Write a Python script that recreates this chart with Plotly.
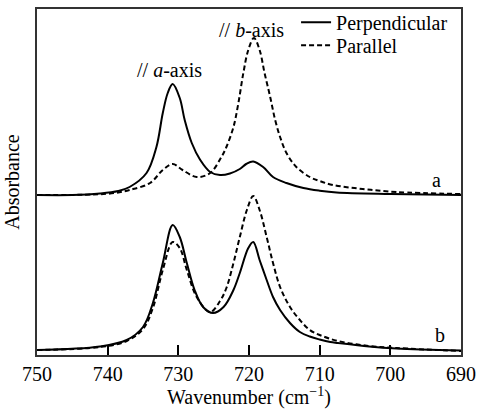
import plotly.graph_objects as go

# ---- data ----
wn_a_perp = [750, 745, 741.1, 738.5, 736.9, 734.5, 733.1, 732.2, 731.5, 730.8, 729.8, 729.1, 728.1,
             726.9, 725.5, 724.1, 722.7, 721.3, 720.4, 719.4, 718.0, 716.6, 714.7, 712.3,
             710.0, 707.6, 700, 690]
abs_a_perp = [0.00, 0.00, 0.015, 0.04, 0.08, 0.22, 0.48, 0.82, 1.02, 1.11, 0.97, 0.75, 0.52,
              0.35, 0.23, 0.20, 0.215, 0.26, 0.31, 0.335, 0.28, 0.18, 0.12, 0.07,
              0.043, 0.025, 0.01, 0.00]

wn_a_par = [750, 742, 739, 736.9, 734.0, 732.2, 730.8, 729.4, 727.4, 725.5, 723.9, 723.2, 722.2,
            721.5, 720.8, 720.1, 719.3, 718.5, 717.8, 717.0, 716.3, 715.6, 714.7, 713.3, 711.4,
            710.0, 708.1, 703.9, 699.1, 690]
abs_a_par = [0.00, 0.005, 0.02, 0.05, 0.12, 0.25, 0.31, 0.25, 0.18, 0.22, 0.38, 0.48, 0.68,
             0.92, 1.22, 1.45, 1.57, 1.45, 1.22, 0.98, 0.75, 0.58, 0.42, 0.28, 0.18,
             0.14, 0.10, 0.06, 0.03, 0.01]

wn_b_perp = [750, 741.1, 737.3, 735.0, 733.6, 732.2, 730.8, 729.8, 728.8, 727.7, 726.5, 725.1, 723.6,
             722.2, 721.3, 720.1, 719.4, 718.5, 717.5, 716.6, 715.6, 714.2, 712.8, 711.4, 710.0,
             708.5, 707.4, 703.0, 699.1, 690]
abs_b_perp = [0.01, 0.045, 0.11, 0.24, 0.48, 0.88, 1.26, 1.14, 0.88, 0.61, 0.44, 0.38, 0.44,
              0.61, 0.78, 1.03, 1.09, 0.91, 0.71, 0.54, 0.41, 0.28, 0.19, 0.145, 0.115,
              0.09, 0.08, 0.045, 0.025, 0.005]

wn_b_par = [750, 741.1, 737.3, 735.0, 733.6, 732.2, 730.8, 729.8, 728.8, 727.4, 725.5, 724.1, 723.2,
            722.2, 721.3, 720.3, 719.4, 718.5, 717.5, 716.6, 715.6, 714.2, 712.8, 711.4, 710.0,
            707.4, 703.0, 699.1, 690]
abs_b_par = [0.01, 0.04, 0.10, 0.22, 0.43, 0.81, 1.09, 1.03, 0.81, 0.54, 0.39, 0.50, 0.63,
             0.88, 1.14, 1.41, 1.55, 1.41, 1.14, 0.88, 0.64, 0.44, 0.31, 0.21, 0.16,
             0.10, 0.05, 0.03, 0.00]

offset_a = 1.60
offset_b = 0.04

x_ticks = [750, 740, 730, 720, 710, 700, 690]
series_names = ["Perpendicular", "Parallel"]

FONT = "Liberation Serif, Times New Roman, serif"
FS = 20

fig = go.Figure()
solid = dict(color="black", width=2)
dashed = dict(color="black", width=2, dash="5px,3px")

fig.add_trace(go.Scatter(x=wn_a_perp, y=[v + offset_a for v in abs_a_perp], mode="lines",
                         line=solid, line_shape="spline", name=series_names[0], legend="legend"))
fig.add_trace(go.Scatter(x=wn_a_par, y=[v + offset_a for v in abs_a_par], mode="lines",
                         line=dashed, line_shape="spline", name=series_names[1], legend="legend2"))
fig.add_trace(go.Scatter(x=wn_b_perp, y=[v + offset_b for v in abs_b_perp], mode="lines",
                         line=solid, line_shape="spline", showlegend=False))
fig.add_trace(go.Scatter(x=wn_b_par, y=[v + offset_b for v in abs_b_par], mode="lines",
                         line=dashed, line_shape="spline", showlegend=False))

ann_font = dict(family=FONT, size=FS, color="black")
fig.add_annotation(x=731.2, y=2.85, text="// <i>a</i>-axis", showarrow=False, font=ann_font)
fig.add_annotation(x=719.6, y=3.25, text="// <i>b</i>-axis", showarrow=False, font=ann_font)
fig.add_annotation(x=693.4, y=1.75, text="a", showarrow=False, font=ann_font)
fig.add_annotation(x=693.0, y=0.20, text="b", showarrow=False, font=ann_font)

leg_common = dict(x=0.611, xanchor="left", yanchor="middle", bgcolor="rgba(0,0,0,0)",
                  font=dict(family=FONT, size=FS, color="black"), itemwidth=30, borderwidth=0)

fig.update_layout(
    width=480, height=409,
    margin=dict(l=37, r=19, t=9, b=54, autoexpand=False),
    plot_bgcolor="white", paper_bgcolor="white",
    font=dict(family=FONT, size=FS, color="black"),
    showlegend=True,
    legend=dict(y=0.962, **leg_common),
    legend2=dict(y=0.895, **leg_common),
    xaxis=dict(range=[750, 690], tickvals=x_ticks, ticks="inside", ticklen=10, tickwidth=1.5,
               tickcolor="black", showline=True, linecolor="#333", linewidth=1.5, mirror=True,
               showgrid=False, zeroline=False, automargin=False,
               title=dict(text="Wavenumber (cm<sup>−1</sup>)", standoff=0,
                          font=dict(family=FONT, size=FS)),
               tickfont=dict(family=FONT, size=FS)),
    yaxis=dict(range=[0, 3.46], showticklabels=False, ticks="", showline=True, linecolor="#333",
               linewidth=1.5, mirror=True, showgrid=False, zeroline=False, automargin=False,
               title=dict(text="Absorbance", standoff=10, font=dict(family=FONT, size=FS))),
)

fig.write_html("out.html", config={"displayModeBar": False},
               post_script="document.body.style.margin='0';document.body.style.padding='0';")
